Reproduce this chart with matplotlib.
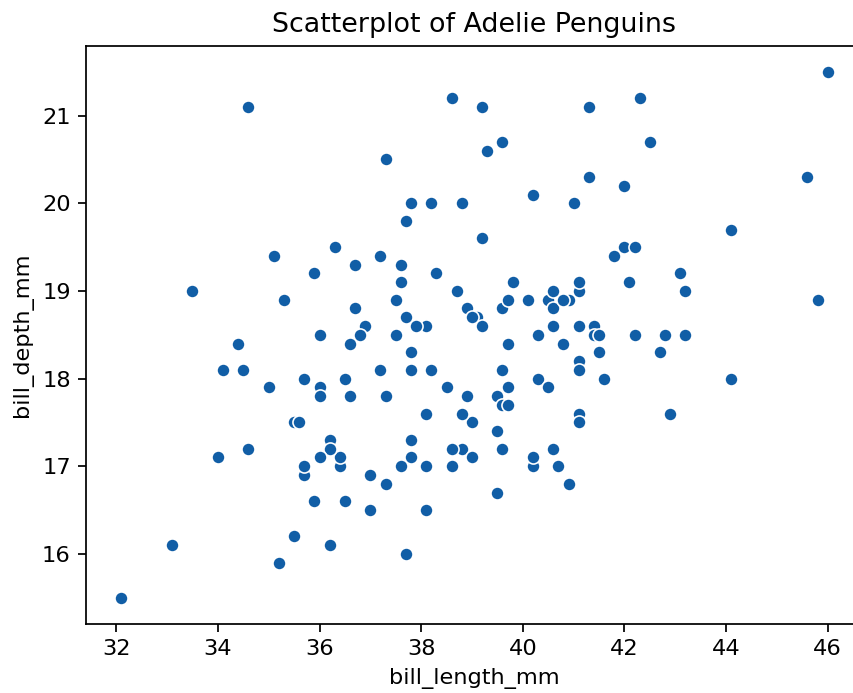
"""Scatterplot of Adelie penguins: bill length vs bill depth."""

import matplotlib
matplotlib.use("Agg")
import matplotlib.pyplot as plt

# ── Data (Adelie rows of the penguins dataset) ─────────────────────────────
bill_length_mm = [
    39.1, 39.5, 40.3, 36.7, 39.3, 38.9, 39.2, 34.1, 42.0, 37.8, 37.8, 41.1, 38.6, 34.6, 36.6, 38.7,
    42.5, 34.4, 46.0, 37.8, 37.7, 35.9, 38.2, 38.8, 35.3, 40.6, 40.5, 37.9, 40.5, 39.5, 37.2, 39.5,
    40.9, 36.4, 39.2, 38.8, 42.2, 37.6, 39.8, 36.5, 40.8, 36.0, 44.1, 37.0, 39.6, 41.1, 37.5, 36.0,
    42.3, 39.6, 40.1, 35.0, 42.0, 34.5, 41.4, 39.0, 40.6, 36.5, 37.6, 35.7, 41.3, 37.6, 41.1, 36.4,
    41.6, 35.5, 41.1, 35.9, 41.8, 33.5, 39.7, 39.6, 45.8, 35.5, 42.8, 40.9, 37.2, 36.2, 42.1, 34.6,
    42.9, 36.7, 35.1, 37.3, 41.3, 36.3, 36.9, 38.3, 38.9, 35.7, 41.1, 34.0, 39.6, 36.2, 40.8, 38.1,
    40.3, 33.1, 43.2, 35.0, 41.0, 37.7, 37.8, 37.9, 39.7, 38.6, 38.2, 38.1, 43.2, 38.1, 45.6, 39.7,
    42.2, 39.6, 42.7, 38.6, 37.3, 35.7, 41.1, 36.2, 37.7, 40.2, 41.4, 35.2, 40.6, 38.8, 41.5, 39.0,
    44.1, 38.5, 43.1, 36.8, 37.5, 38.1, 41.1, 35.6, 40.2, 37.0, 39.7, 40.2, 40.6, 32.1, 40.7, 37.3,
    39.0, 39.2, 36.6, 36.0, 37.8, 36.0, 41.5,
]
bill_depth_mm = [
    18.7, 17.4, 18.0, 19.3, 20.6, 17.8, 19.6, 18.1, 20.2, 17.1, 17.3, 17.6, 21.2, 21.1, 17.8, 19.0,
    20.7, 18.4, 21.5, 18.3, 18.7, 19.2, 18.1, 17.2, 18.9, 18.6, 17.9, 18.6, 18.9, 16.7, 18.1, 17.8,
    18.9, 17.0, 21.1, 20.0, 18.5, 19.3, 19.1, 18.0, 18.4, 18.5, 19.7, 16.9, 18.8, 19.0, 18.9, 17.9,
    21.2, 17.7, 18.9, 17.9, 19.5, 18.1, 18.6, 17.5, 18.8, 16.6, 19.1, 16.9, 21.1, 17.0, 18.2, 17.1,
    18.0, 16.2, 19.1, 16.6, 19.4, 19.0, 18.4, 17.2, 18.9, 17.5, 18.5, 16.8, 19.4, 16.1, 19.1, 17.2,
    17.6, 18.8, 19.4, 17.8, 20.3, 19.5, 18.6, 19.2, 18.8, 18.0, 18.1, 17.1, 18.1, 17.3, 18.9, 18.6,
    18.5, 16.1, 18.5, 17.9, 20.0, 16.0, 20.0, 18.6, 18.9, 17.2, 20.0, 17.0, 19.0, 16.5, 20.3, 17.7,
    19.5, 20.7, 18.3, 17.0, 20.5, 17.0, 18.6, 17.2, 19.8, 17.0, 18.5, 15.9, 19.0, 17.6, 18.3, 17.1,
    18.0, 17.9, 19.2, 18.5, 18.5, 17.6, 17.5, 17.5, 20.1, 16.5, 17.9, 17.1, 17.2, 15.5, 17.0, 16.8,
    18.7, 18.6, 18.4, 17.8, 18.1, 17.1, 18.5,
]

# Screenshot is a 6.4x4.8 in figure scaled by ~1.57 and cropped
S = 1.57
plt.rcParams.update({
    "font.size": 10.3 * S,
    "axes.linewidth": 0.8 * S,
    "xtick.major.size": 3.5 * S,
    "ytick.major.size": 3.5 * S,
    "xtick.major.width": 0.8 * S,
    "ytick.major.width": 0.8 * S,
    "xtick.major.pad": 3.5 * S,
    "ytick.major.pad": 3.5 * S,
    "axes.titlepad": 6 * S,
    "axes.labelpad": 4 * S,
})

fig = plt.figure(figsize=(8.54, 6.93), dpi=100)
ax = fig.add_axes([86 / 854, 69 / 693, 777 / 854, 578.5 / 693])

ax.scatter(bill_length_mm, bill_depth_mm, s=36 * S ** 2, color="#115ea6",
           edgecolor="white", linewidth=0.75 * S)
ax.margins(0.05)

ax.set_xticks([32, 34, 36, 38, 40, 42, 44, 46])
ax.set_yticks([16, 17, 18, 19, 20, 21])
ax.set_xlabel("bill_length_mm")
ax.set_ylabel("bill_depth_mm")
ax.set_title("Scatterplot of Adelie Penguins")

fig.savefig("out.png", dpi=100)
